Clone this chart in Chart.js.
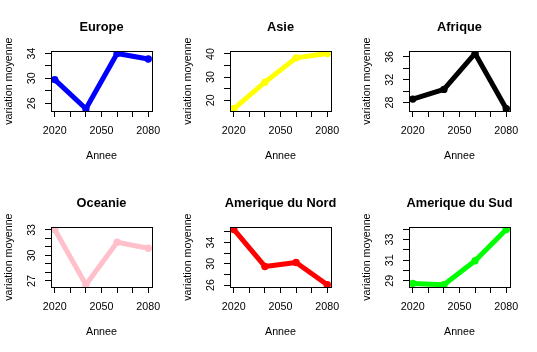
<!DOCTYPE html>
<html>
<head>
<meta charset="utf-8">
<script src="https://cdn.jsdelivr.net/npm/chart.js@4"></script>
<style>
  body { margin: 0; background: #fff; }
  #grille { position: relative; width: 537px; height: 352px; }
  #grille canvas { position: absolute; }
</style>
</head>
<body>
<div id="grille"></div>
<script>
// Données
const annees = [2020, 2040, 2060, 2080];

const europe = [29.8, 25.1, 34.0, 33.1];
const asie = [16.3, 27.8, 38.3, 40.2];
const afrique = [28.6, 30.3, 36.6, 26.9];
const oceanie = [33.05, 26.55, 31.55, 30.85];
const ameriqueNord = [36.45, 29.5, 30.25, 26.05];
const ameriqueSud = [28.75, 28.62, 30.95, 33.98];

// Graduations
const xTicks = [2020, 2030, 2040, 2050, 2060, 2070, 2080];
const xLabels = [2020, 2050, 2080];

const europeTicks = [26, 28, 30, 32, 34];
const europeLabels = [26, 30, 34];
const asieTicks = [20, 25, 30, 35, 40];
const asieLabels = [20, 30, 40];
const afriqueTicks = [28, 30, 32, 34, 36];
const afriqueLabels = [28, 32, 36];
const oceanieTicks = [27, 28, 29, 30, 31, 32, 33];
const oceanieLabels = [27, 30, 33];
const nordTicks = [26, 28, 30, 32, 34, 36];
const nordLabels = [26, 30, 34];
const sudTicks = [29, 30, 31, 32, 33, 34];
const sudLabels = [29, 31, 33];

const police = "'Liberation Sans', Arial, sans-serif";

// cadre autour de la zone de tracé (comme box() dans R)
const cadre = {
  id: "cadre",
  afterDraw(chart) {
    const { ctx, chartArea: a } = chart;
    ctx.save();
    ctx.strokeStyle = "#000";
    ctx.lineWidth = 1;
    ctx.strokeRect(Math.round(a.left) + 0.5, Math.round(a.top) + 0.5,
      Math.round(a.right - a.left), Math.round(a.bottom - a.top));
    ctx.restore();
  },
};

function creerGraphique(canvas, titre, valeurs, couleur, yTicks, yLabels) {
  const bas = Math.min(...valeurs);
  const haut = Math.max(...valeurs);
  const marge = (haut - bas) * 0.04;
  const xMarge = (annees[annees.length - 1] - annees[0]) * 0.04;

  return new Chart(canvas.getContext("2d"), {
    type: "line",
    data: {
      datasets: [
        {
          data: annees.map((a, i) => ({ x: a, y: valeurs[i] })),
          borderColor: couleur,
          backgroundColor: couleur,
          borderWidth: 5,
          pointRadius: 3.7,
          pointBorderWidth: 0,
          borderCapStyle: "round",
          borderJoinStyle: "round",
          tension: 0,
        },
      ],
    },
    options: {
      responsive: false,
      animation: false,
      devicePixelRatio: 1,
      // marge gauche 24 + axe droit 27 : le titre reste centré sur la zone de tracé
      layout: { padding: { left: 24, right: 0, top: 0, bottom: 0 } },
      plugins: {
        legend: { display: false },
        tooltip: { enabled: false },
        title: {
          display: true,
          text: titre,
          color: "#000",
          font: { family: police, size: 12.8, weight: "bold" },
          padding: { top: 19.4, bottom: 16.5 },
        },
      },
      scales: {
        x: {
          type: "linear",
          min: annees[0] - xMarge,
          max: annees[annees.length - 1] + xMarge,
          afterBuildTicks: (s) => {
            s.ticks = xTicks.map((v) => ({ value: v }));
          },
          afterFit: (s) => {
            s.height = 65;
          },
          ticks: {
            autoSkip: false,
            maxRotation: 0,
            color: "#000",
            padding: 7.5,
            font: { family: police, size: 10.7 },
            callback: (v) => (xLabels.includes(v) ? String(v) : ""),
          },
          grid: { drawOnChartArea: false, tickLength: 6, color: "#000" },
          border: { color: "#000" },
          title: {
            display: true,
            text: "Annee",
            color: "#000",
            font: { family: police, size: 10.7 },
            padding: { top: 0, bottom: 14 },
          },
        },
        y: {
          type: "linear",
          min: bas - marge,
          max: haut + marge,
          afterBuildTicks: (s) => {
            s.ticks = yTicks.map((v) => ({ value: v }));
          },
          afterFit: (s) => {
            s.width = 27;
          },
          ticks: {
            autoSkip: false,
            minRotation: 90,
            maxRotation: 90,
            crossAlign: "center",
            color: "#000",
            padding: 7.5,
            font: { family: police, size: 10.7 },
            callback: (v) => (yLabels.includes(v) ? String(v) : ""),
          },
          grid: { drawOnChartArea: false, tickLength: 6, color: "#000" },
          border: { color: "#000" },
          title: {
            display: true,
            text: "variation moyenne",
            color: "#000",
            font: { family: police, size: 10.7 },
            padding: { top: -21.8, bottom: 0 },
          },
        },
        // axe vide à droite, seulement pour la marge
        y2: {
          type: "linear",
          position: "right",
          grid: { display: false },
          ticks: { display: false },
          border: { display: false },
          afterFit: (s) => {
            s.width = 27;
          },
        },
      },
    },
    plugins: [cadre],
  });
}

const panneaux = [
  ["Europe", europe, "#0000FF", europeTicks, europeLabels],
  ["Asie", asie, "#FFFF00", asieTicks, asieLabels],
  ["Afrique", afrique, "#000000", afriqueTicks, afriqueLabels],
  ["Oceanie", oceanie, "#FFC0CB", oceanieTicks, oceanieLabels],
  ["Amerique du Nord", ameriqueNord, "#FF0000", nordTicks, nordLabels],
  ["Amerique du Sud", ameriqueSud, "#00FF00", sudTicks, sudLabels],
];

const grille = document.getElementById("grille");
panneaux.forEach((p, i) => {
  const canvas = document.createElement("canvas");
  canvas.width = 179;
  canvas.height = 176;
  canvas.style.left = (i % 3) * 179 + "px";
  canvas.style.top = Math.floor(i / 3) * 176 + "px";
  grille.appendChild(canvas);
  creerGraphique(canvas, ...p);
});
</script>
</body>
</html>
